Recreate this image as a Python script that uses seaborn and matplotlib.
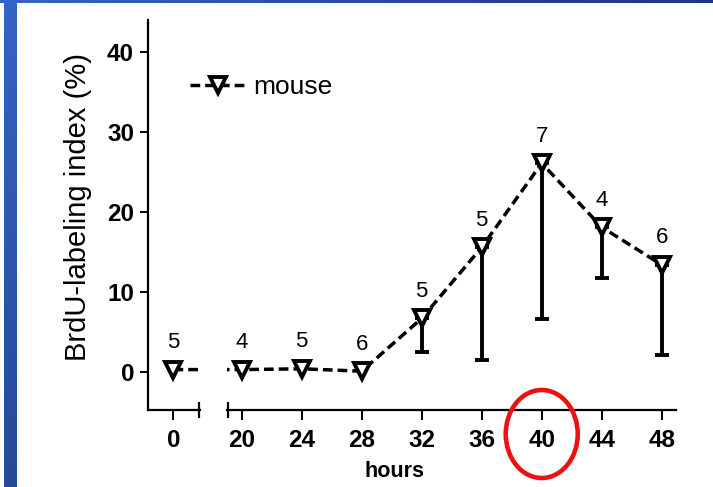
import numpy as np
import pandas as pd
import matplotlib
matplotlib.use("Agg")
import matplotlib.pyplot as plt
from matplotlib.patches import Ellipse
from matplotlib.colors import LinearSegmentedColormap
import seaborn as sns

# values
hours = [0, 20, 24, 28, 32, 36, 40, 44, 48]
brdu_index = [0.3, 0.3, 0.4, 0.1, 6.7, 15.6, 26.1, 18.1, 13.4]
err_low = [0, 0, 0, 0, 4.2, 14.1, 19.5, 6.4, 11.3]
n_mice = [5, 4, 5, 6, 5, 5, 7, 4, 6]
x_ticks_left = [0]
x_ticks_right = [20, 24, 28, 32, 36, 40, 44, 48]
y_ticks = [0, 10, 20, 30, 40]
highlight_hour = 40

df = pd.DataFrame({"hours": hours, "index": brdu_index, "err": err_low, "n": n_mice})

sns.set_style("ticks")
plt.rcParams["font.family"] = ["Liberation Sans", "DejaVu Sans"]
plt.rcParams["lines.scale_dashes"] = False
plt.rcParams["axes.linewidth"] = 1.6
for key in ["text.color", "axes.labelcolor", "xtick.color", "ytick.color", "axes.edgecolor"]:
    plt.rcParams[key] = "black"

W, H = 713, 487
fig = plt.figure(figsize=(W / 100, H / 100), dpi=100)
fig.patch.set_facecolor("white")

# broken x axis: two panels sharing y
ax_l = fig.add_axes([148 / W, 77 / H, 52 / W, 390 / H])
ax_r = fig.add_axes([227 / W, 77 / H, 449 / W, 390 / H], sharey=ax_l)

line_kw = dict(color="black", lw=2.5, linestyle=(0, (7, 3.6)), marker="v",
               markersize=11.5, markerfacecolor="white", markeredgecolor="black",
               markeredgewidth=2.8, errorbar=None, legend=False, zorder=3)

for ax in (ax_l, ax_r):
    sns.lineplot(data=df, x="hours", y="index", ax=ax, **line_kw)
    sub = df[df["err"] > 0]
    ax.errorbar(sub["hours"], sub["index"], yerr=[sub["err"], np.zeros(len(sub))],
                fmt="none", ecolor="black", elinewidth=2.8, capsize=5, capthick=2.8,
                zorder=2)
    ax.set_xlabel("")
    ax.set_ylabel("")
    ax.spines["top"].set_visible(False)
    ax.spines["right"].set_visible(False)
    ax.tick_params(axis="x", which="major", length=7, width=1.4, pad=6.5, labelsize=17.5)
    ax.tick_params(axis="x", which="minor", length=11, width=1.6, direction="inout")

ax_l.set_xlim(-1.71, 1.78)
ax_r.set_xlim(19.02, 48.95)
ax_l.set_ylim(-4.75, 44)

ax_l.set_xticks(x_ticks_left)
ax_l.set_xticks([1.74], minor=True)
ax_r.set_xticks(x_ticks_right)
ax_r.set_xticks([19.06], minor=True)
ax_l.set_yticks(y_ticks)
ax_l.tick_params(axis="y", length=6, width=1.4, pad=4, labelsize=17.5)
ax_r.spines["left"].set_visible(False)
ax_r.tick_params(axis="y", left=False, labelleft=False)

for ax in (ax_l, ax_r):
    for lab in ax.get_xticklabels() + ax.get_yticklabels():
        lab.set_fontweight("bold")

# sample size above each point
for h, v, n in zip(hours, brdu_index, n_mice):
    ax = ax_l if h < 10 else ax_r
    ax.annotate(str(n), (h, v), xytext=(0, 12), textcoords="offset points",
                ha="center", va="bottom", fontsize=16)

ax_l.set_ylabel("BrdU-labeling index (%)", fontsize=21)
ax_l.yaxis.set_label_coords(-1.08, 0.52)
ax_r.set_xlabel("hours", fontsize=15.5, fontweight="bold")
ax_r.xaxis.set_label_coords(0.374, -0.132)

fig.legend([ax_r.lines[0]], ["mouse"], loc="center left",
           bbox_to_anchor=(190 / W, 1 - 87 / H), frameon=False, fontsize=19,
           handlelength=2.1, handletextpad=0.3, borderpad=0, borderaxespad=0)

# red circle around the 40 h tick label
x_disp = ax_r.transData.transform((highlight_hour, 0))[0]
cx = fig.transFigure.inverted().transform((x_disp, 0))[0]
fig.patches.append(Ellipse((cx, 1 - 434 / H), 72 / W, 88 / H, transform=fig.transFigure,
                           fill=False, edgecolor="#ee1111", linewidth=3.3))

# slide frame (blue bars)
blue = LinearSegmentedColormap.from_list("slide", ["#3464c6", "#1d3679"])
grad = np.linspace(0, 1, 256)
top_bar = fig.add_axes([0, 1 - 3.5 / H, 1, 3.5 / H])
top_bar.imshow(grad[None, :], aspect="auto", cmap=blue)
top_bar.axis("off")
left_bar = fig.add_axes([4 / W, 0, 13 / W, 1])
left_bar.imshow(grad[:, None] * 0.6, aspect="auto", cmap=blue, vmin=0, vmax=1)
left_bar.axis("off")

fig.savefig("out.png", dpi=100)
